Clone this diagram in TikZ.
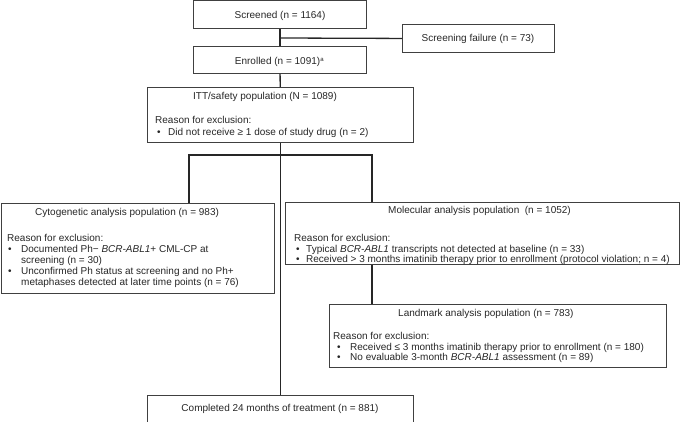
\documentclass[tikz,border=0pt]{standalone}
\usepackage{fontspec}
\setmainfont{Liberation Sans}
\begin{document}
\begin{tikzpicture}[x=1pt,y=-1pt,
  box/.style={draw=black!75, line width=0.9pt, inner sep=0pt, anchor=north west},
  conn/.style={draw=black!85, line width=1.3pt},
  txt/.style={inner sep=0pt, anchor=base west, font=\fontsize{10}{10.7}\selectfont, text=black!85},
  ctxt/.style={inner sep=0pt, anchor=base, font=\fontsize{10}{10.7}\selectfont, text=black!85}]
\useasboundingbox (0,0) rectangle (685,422);
% boxes
\node[box, minimum width=173pt, minimum height=28pt] (scr) at (193,0.5) {};
\node[box, minimum width=152pt, minimum height=28pt] (sf) at (402,24) {};
\node[box, minimum width=173pt, minimum height=27pt] (enr) at (193,46) {};
\node[box, minimum width=266pt, minimum height=55pt] (itt) at (147,87) {};
\node[box, minimum width=273.5pt, minimum height=90pt] (cyto) at (0.5,203) {};
\node[box, minimum width=394pt, minimum height=62pt] (mol) at (285,202) {};
\node[box, minimum width=337pt, minimum height=63pt] (land) at (329,304) {};
\node[box, minimum width=266pt, minimum height=26.5pt] (comp) at (147,395) {};
% connectors
\coordinate (j1) at (280,38);
\coordinate (bl) at (189,155);
\coordinate (br) at (372,155);
\draw[conn] (scr) -- (enr);
\draw[conn] (j1) -- (sf.west);
\draw[conn] (enr) -- (itt);
\draw[conn] (itt) -- (comp);
\draw[conn] (cyto.north -| bl) -- (bl) -- (br) -- (mol.north -| br);
\draw[conn] (mol.south -| br) -- (land.north -| br);
% texts
\node[ctxt] (tscr) at (280,18.2) {Screened (n = 1164)};
\node[ctxt] (tsf) at (478,41.2) {Screening failure (n = 73)};
\node[ctxt] (tenr) at (279.5,65) {Enrolled (n = 1091)\textsuperscript{\fontsize{6}{6}\selectfont a}};
\node[txt] (titt) at (193,100) {ITT/safety population (N = 1089)};
\node[txt] (ritt) at (155,124) {Reason for exclusion:};
\node[txt] (bitt) at (157,135.5) {\textbullet};
\node[txt] (litt) at (168,135.5) {Did not receive ≥ 1 dose of study drug (n = 2)};
% cyto
\node[txt] (tcy) at (35,215) {Cytogenetic analysis population (n = 983)};
\node[txt] (rcy) at (7,241) {Reason for exclusion:};
\node[txt] (bcy1) at (8,252) {\textbullet};
\node[txt] (lcy1) at (21,252) {Documented Ph− \textit{BCR-ABL1}+ CML-CP at};
\node[txt] (lcy2) at (21,263) {screening (n = 30)};
\node[txt] (bcy2) at (8,274) {\textbullet};
\node[txt] (lcy3) at (21,274) {Unconfirmed Ph status at screening and no Ph+};
\node[txt] (lcy4) at (21,285.5) {metaphases detected at later time points (n = 76)};
% mol
\node[txt] (tmo) at (388,214) {Molecular analysis population\ \ (n = 1052)};
\node[txt] (rmo) at (294,241.5) {Reason for exclusion:};
\node[txt] (bmo1) at (296,252) {\textbullet};
\node[txt] (lmo1) at (306,252) {Typical \textit{BCR-ABL1} transcripts not detected at baseline (n = 33)};
\node[txt] (bmo2) at (296,262.5) {\textbullet};
\node[txt] (lmo2) at (306,262.5) {Received > 3 months imatinib therapy prior to enrollment (protocol violation; n = 4)};
% land
\node[txt] (tla) at (398,316) {Landmark analysis population (n = 783)};
\node[txt] (rla) at (333,339) {Reason for exclusion:};
\node[txt] (bla1) at (337,350) {\textbullet};
\node[txt] (lla1) at (350,350) {Received ≤ 3 months imatinib therapy prior to enrollment (n = 180)};
\node[txt] (bla2) at (337,360.5) {\textbullet};
\node[txt] (lla2) at (350,360.5) {No evaluable 3-month \textit{BCR-ABL1} assessment (n = 89)};
% completed
\node[ctxt] (tco) at (280,411) {Completed 24 months of treatment (n = 881)};
\end{tikzpicture}
\end{document}
